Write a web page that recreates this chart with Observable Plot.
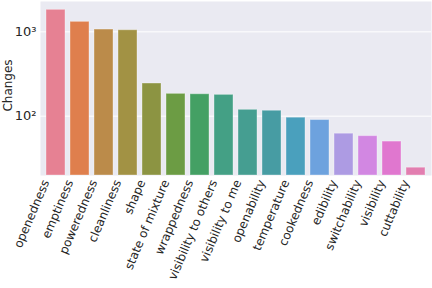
<!DOCTYPE html>
<html>
<head>
<meta charset="utf-8">
<script src="https://cdn.jsdelivr.net/npm/d3@7"></script>
<script src="https://cdn.jsdelivr.net/npm/@observablehq/plot@0.6"></script>
<style>
  html, body { margin: 0; padding: 0; background: #fff; }
  #chart svg { display: block; }
</style>
</head>
<body>
<div id="chart"></div>
<script>
const categories = ["openedness","emptiness","poweredness","cleanliness","shape","state of mixture","wrappedness","visibility to others","visibility to me","openability","temperature","cookedness","edibility","switchability","visibility","cuttability"];
const changes = [1824, 1314, 1065, 1045, 244, 184, 182, 179, 119, 116, 96, 90, 62, 58, 50, 24.5];
const colors = ["#e68193","#df7f4d","#bb8b4a","#a29244","#8c9442","#6c9c44","#44a064","#44a085","#459e91","#479ca3","#4aa0bd","#6da2de","#ad9be3","#d287e2","#e077cf","#e27eb0"];
const yTicks = [100, 1000];
const yDomain = [19.8, 2290];
const data = categories.map((c, i) => ({name: c, value: changes[i], color: colors[i]}));
const sup = {"0":"⁰","1":"¹","2":"²","3":"³","4":"⁴"};

const chart = Plot.plot({
  width: 432, height: 288, marginLeft: 40, marginRight: 1, marginTop: 1, marginBottom: 113,
  style: {fontFamily: "DejaVu Sans", background: "white", color: "#262626"},
  x: {domain: categories, padding: 0.2, label: null},
  y: {type: "log", domain: yDomain, label: null},
  marks: [
    Plot.frame({fill: "#eaeaf2", stroke: null}),
    Plot.gridY(yTicks, {stroke: "white", strokeOpacity: 1}),
    Plot.barY(data, {x: "name", y1: yDomain[0], y2: "value", fill: "color", stroke: "white", strokeOpacity: 0.35}),
    Plot.axisY(yTicks, {tickSize: 0, tickPadding: 4, fontSize: 13,
      tickFormat: d => "10" + String(Math.round(Math.log10(d))).split("").map(c => sup[c]).join(""), label: null}),
    Plot.text(["Changes"], {frameAnchor: "left", textAnchor: "middle", dx: -32, dy: -3, rotate: -90, fontSize: 12}),
    Plot.axisX({tickSize: 0, tickPadding: 4, tickRotate: -67, fontSize: 12, dx: -10, dy: 1, label: null})
  ]
});
document.getElementById("chart").appendChild(chart);
</script>
</body>
</html>
